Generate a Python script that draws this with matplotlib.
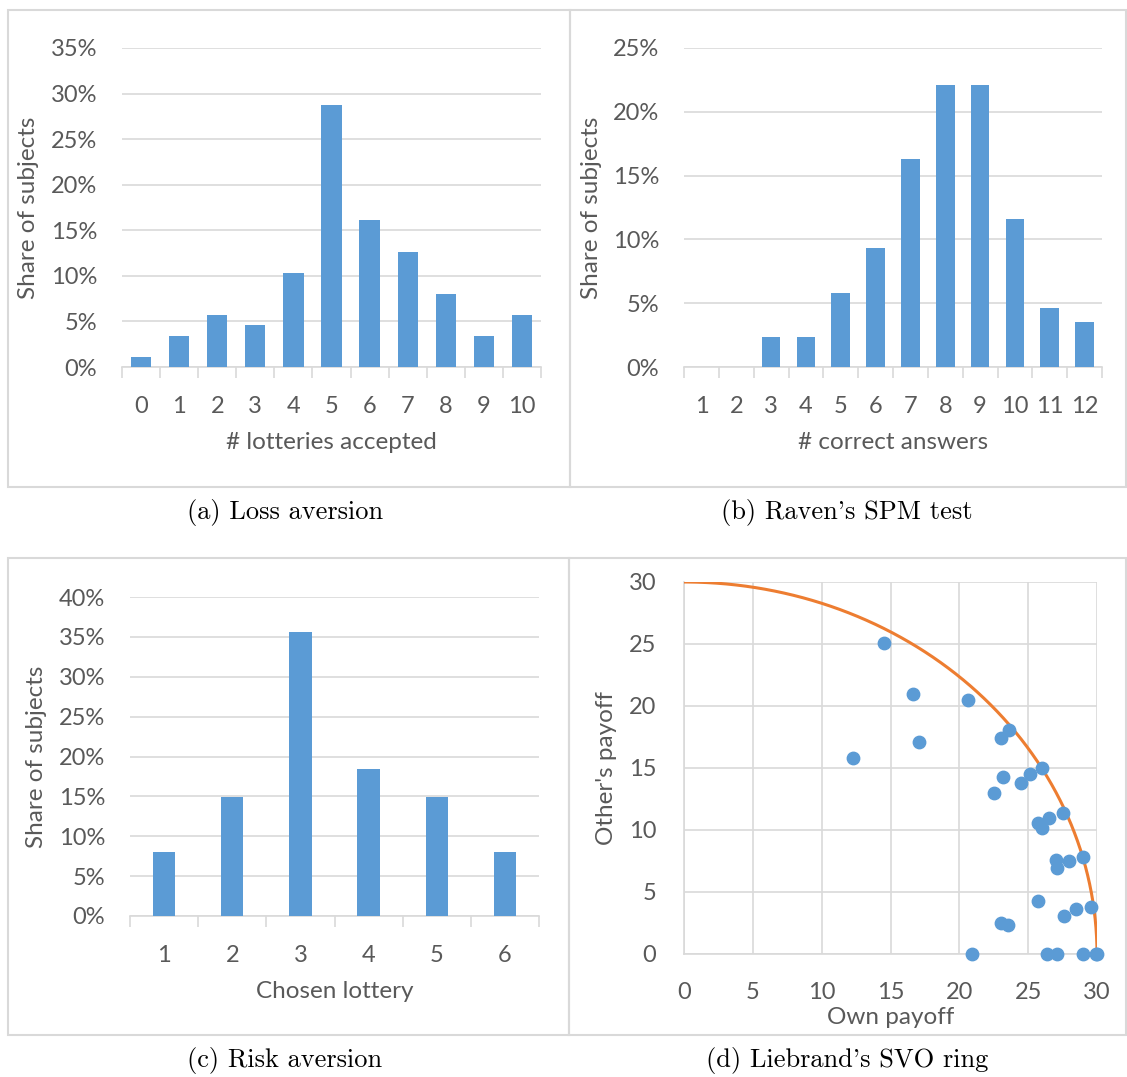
import numpy as np
import matplotlib
matplotlib.use("Agg")
import matplotlib.pyplot as plt
from matplotlib.patches import Rectangle
from matplotlib.ticker import FixedLocator, NullFormatter

plt.rcParams['font.family'] = ['Lato', 'DejaVu Sans']

# ---- data ----
loss_cats = list(range(0, 11))
loss_share = [1.15, 3.45, 5.75, 4.6, 10.3, 28.7, 16.1, 12.6, 8.0, 3.45, 5.75]

raven_cats = list(range(1, 13))
raven_share = [0, 0, 2.33, 2.33, 5.8, 9.3, 16.3, 22.1, 22.1, 11.6, 4.65, 3.49]

risk_cats = list(range(1, 7))
risk_share = [8.05, 14.9, 35.6, 18.4, 14.9, 8.05]

svo_own = [14.5, 16.6, 20.6, 23.6, 23.0, 17.1, 12.3, 26.0, 25.1, 23.2, 24.5, 22.5,
           27.5, 26.5, 25.7, 26.0, 29.0, 28.0, 27.0, 27.1, 25.7, 29.6, 28.5, 27.6,
           23.0, 23.5, 20.9, 26.4, 27.1, 29.0, 29.9, 30.0]
svo_other = [25.1, 21.0, 20.5, 18.1, 17.4, 17.1, 15.8, 15.0, 14.5, 14.3, 13.8, 13.0,
             11.4, 11.0, 10.6, 10.2, 7.8, 7.5, 7.6, 6.9, 4.3, 3.8, 3.6, 3.1,
             2.5, 2.3, 0.0, 0.0, 0.0, 0.0, 0.0, 0.0]
ring_radius = 30

BLUE = '#5B9BD5'
ORANGE = '#ED7D31'
GRID = '#D9D9D9'
TXT = '#595959'
FS = 17

W, H = 1127, 1077
fig = plt.figure(figsize=(W / 100, H / 100), dpi=100)


def ax_at(x0, y0, x1, y1):
    return fig.add_axes([x0 / W, 1 - y1 / H, (x1 - x0) / W, (y1 - y0) / H])


def border(x0, y0, x1, y1):
    fig.patches.append(Rectangle((x0 / W, 1 - y1 / H), (x1 - x0) / W, (y1 - y0) / H,
                                 transform=fig.transFigure, fill=False,
                                 edgecolor=GRID, lw=1.5))


def bar_panel(ax, cats, vals, ymax, width, xlabel):
    ax.bar(cats, vals, width=width, color=BLUE, zorder=3)
    ax.set_xlim(cats[0] - 0.5, cats[-1] + 0.5)
    ax.set_ylim(0, ymax)
    ax.set_yticks(range(0, ymax + 1, 5))
    ax.set_yticklabels([f'{v}%' for v in range(0, ymax + 1, 5)])
    ax.set_xticks(cats)
    ax.xaxis.set_minor_locator(FixedLocator([c - 0.5 for c in cats] + [cats[-1] + 0.5]))
    ax.xaxis.set_minor_formatter(NullFormatter())
    ax.tick_params(axis='x', which='major', length=0, pad=21, labelsize=FS, labelcolor=TXT)
    ax.tick_params(axis='x', which='minor', length=8, width=1.2, color=GRID)
    ax.tick_params(axis='y', length=0, pad=18, labelsize=FS, labelcolor=TXT)
    ax.grid(axis='y', color=GRID, lw=1.2, zorder=0)
    for s in ['top', 'right', 'left']:
        ax.spines[s].set_visible(False)
    ax.spines['bottom'].set_color(GRID)
    ax.spines['bottom'].set_linewidth(1.2)
    ax.set_xlabel(xlabel, fontsize=FS + 0.5, color=TXT, labelpad=11)
    ax.set_ylabel('Share of subjects', fontsize=FS + 0.5, color=TXT, labelpad=8)


# panel borders
border(8, 10, 570, 487)
border(570, 10, 1126, 487)
border(8, 558, 569, 1035)
border(569, 558, 1126, 1035)

ax_a = ax_at(122, 48, 541, 367)
bar_panel(ax_a, loss_cats, loss_share, 35, 0.53, '# lotteries accepted')

ax_b = ax_at(684, 48, 1102, 367)
bar_panel(ax_b, raven_cats, raven_share, 25, 0.54, '# correct answers')

ax_c = ax_at(130, 597, 539, 916)
bar_panel(ax_c, risk_cats, risk_share, 40, 0.33, 'Chosen lottery')

# panel d: SVO ring
ax_d = ax_at(684, 582, 1097, 954)
theta = np.linspace(0, np.pi / 2, 200)
ax_d.plot(ring_radius * np.cos(theta), ring_radius * np.sin(theta),
          color=ORANGE, lw=2.2, zorder=3)
ax_d.scatter(svo_own, svo_other, s=80, color=BLUE, zorder=4, clip_on=False)
ax_d.set_xlim(0, 30)
ax_d.set_ylim(0, 30)
ax_d.set_xticks(range(0, 31, 5))
ax_d.set_yticks(range(0, 31, 5))
ax_d.grid(color=GRID, lw=1.2, zorder=0)
ax_d.tick_params(length=0, labelsize=FS, labelcolor=TXT)
ax_d.tick_params(axis='x', pad=20)
ax_d.tick_params(axis='y', pad=20)
for s in ['top', 'right']:
    ax_d.spines[s].set_visible(False)
for s in ['left', 'bottom']:
    ax_d.spines[s].set_color(GRID)
    ax_d.spines[s].set_linewidth(1.2)
ax_d.set_xlabel('Own payoff', fontsize=FS + 0.5, color=TXT, labelpad=3)
ax_d.set_ylabel("Other's payoff", fontsize=FS + 0.5, color=TXT, labelpad=8)

# captions
cap = dict(fontsize=19, family='cmr10', ha='center', va='center', color='black')
fig.text(285 / W, 1 - 512 / H, '(a) Loss aversion', **cap)
fig.text(847 / W, 1 - 512 / H, "(b) Raven's SPM test", **cap)
fig.text(285 / W, 1 - 1061 / H, '(c) Risk aversion', **cap)
fig.text(847 / W, 1 - 1061 / H, "(d) Liebrand's SVO ring", **cap)

fig.savefig('out.png', dpi=100)
